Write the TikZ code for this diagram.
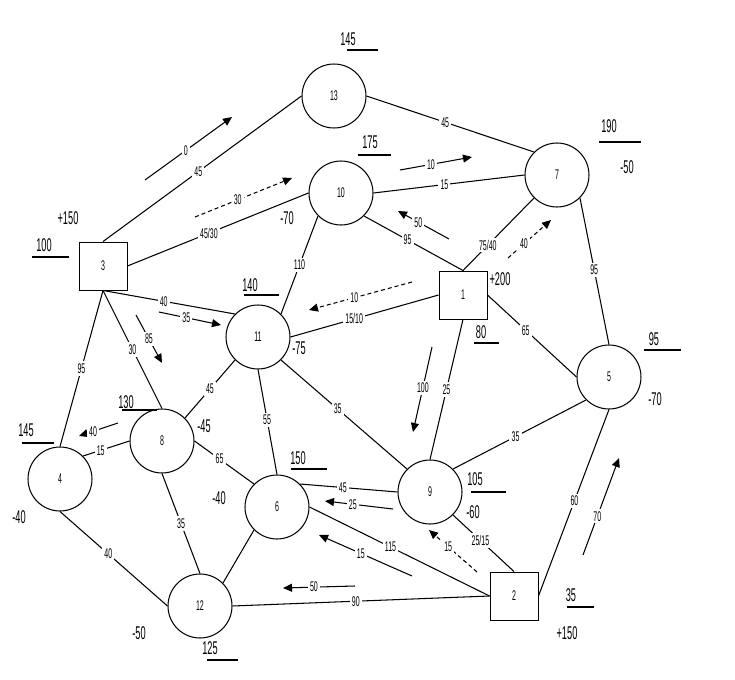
\documentclass[tikz,border=0pt]{standalone}
\usepackage{fontspec}
\setmainfont{Liberation Sans}[FakeStretch=0.5]
\usetikzlibrary{arrows.meta}

\begin{document}
\begin{tikzpicture}[x=0.02cm, y=-0.02cm,
  nd/.style={circle, draw, line width=0.6pt, minimum size=1.28cm, inner sep=0pt, font=\fontsize{8}{9}\selectfont},
  sq/.style={rectangle, draw, line width=0.55pt, minimum size=0.96cm, inner sep=0pt, font=\fontsize{8}{9}\selectfont},
  lnk/.style={line width=0.6pt},
  lbl/.style={fill=white, inner sep=1.2pt, font=\fontsize{8}{9}\selectfont},
  flw/.style={line width=0.6pt, -{Triangle[length=1.8mm, width=1.6mm]}},
  dflw/.style={flw, dash pattern=on 2.3pt off 1.7pt},
  num/.style={inner sep=0pt, font=\fontsize{10.5}{12}\selectfont},
  ul/.style={line width=0.8pt}]
\useasboundingbox (0,0) rectangle (735,680);

\node[nd] (n13) at (334,96) {13};
\node[nd] (n10) at (341,193) {10};
\node[nd] (n7) at (557,175) {7};
\node[sq] (n3) at (103,266) {3};
\node[sq] (n1) at (463,295) {1};
\node[nd] (n11) at (258,337) {11};
\node[nd] (n5) at (609,377) {5};
\node[nd] (n8) at (162,441) {8};
\node[nd] (n4) at (60,479) {4};
\node[nd] (n6) at (277,507) {6};
\node[nd] (n9) at (430,492) {9};
\node[nd] (n12) at (200,606) {12};
\node[sq] (n2) at (514,596) {2};

% links between nodes, cost label on each
\foreach \a/\b/\p/\l in {n3.north/n13.west/0.48/45, n13.east/n7.north west/0.47/45,
    n3.east/n10.west/0.45/{45/30}, n10.east/n7.west/0.47/15,
    n10.south east/n1.north/0.44/95, n1.north/n7.south west/0.35/{75/40},
    n10.south west/n11.north east/0.5/110, n3.south/n11.north west/0.46/40,
    n1.west/n11.east/0.57/{15/10}, n1.east/n5.west/0.43/65,
    n1.south/n9.north/0.5/25, n3.south/n4.north/0.5/95,
    n3.south/n8.north/0.5/30, n11.south west/n8.north east/0.5/45,
    n11.south/n6.north/0.48/55, n11.south east/n9.north west/0.45/35,
    n7.south east/n5.north/0.49/95, n5.south west/n9.north east/0.53/35,
    n5.south/n2.east/0.49/60, n8.west/n4.north east/0.62/15,
    n8.east/n6.north west/0.42/65, n8.south/n12.north/0.5/35,
    n4.south/n12.west/0.45/40, n6.north east/n9.west/0.44/45,
    n6.east/n2.west/0.45/115, n9.south east/n2.north/0.45/{25/15},
    n12.east/n2.west/0.48/90}{
  \draw[lnk] (\a) -- node[lbl, pos=\p] {\l} (\b);}
\draw[lnk] (n6.south west) -- (n12.north east);

% flow arrows beside the links
\foreach \n/\sx/\sy/\ex/\ey/\p/\l/\st in {fa/145/180/232/117/0.47/0/flw,
    fb/195/217/292/178/0.44/30/dflw, fc/400/170/472/157/0.43/10/flw,
    fd/449/239/398/211/0.6/50/flw, fe/508/258/551/220/0.37/40/dflw,
    ff/412/282/309/310/0.56/10/dflw, fg/159/312/221/325/0.44/35/flw,
    fh/136/315/162/363/0.5/85/flw, fi/118/423/79/436/0.64/40/flw,
    fj/432/347/413/432/0.48/100/flw, fk/393/509/325/501/0.59/25/flw,
    fl/412/576/319/535/0.55/15/flw, fm/477/572/429/530/0.6/15/dflw,
    fn/355/586/283/588/0.57/50/flw, fo/583/555/619/458/0.4/70/flw}{
  \coordinate (\n a) at (\sx,\sy);
  \coordinate (\n b) at (\ex,\ey);
  \draw[\st] (\n a) -- node[lbl, pos=\p] {\l} (\n b);}

% node values
\foreach \n/\x/\y/\t in {v13/348/39/145, v10/370/142/175, v7/609/126/190, w7/627/167/-50,
    w3/68/218/+150, v3/44/245/100, w10/287/218/-70, w1/500/279/+200, v1/481/332/80,
    v11/250/285/140, w11/299/348/-75, v5/654/339/95, w5/655/399/-70,
    v8/126/402/130, w8/204/426/-45, v4/26/430/145, w4/19/517/-40,
    v6/298/458/150, w6/219/498/-40, v9/475/479/105, w9/473/512/-60,
    v2/571/595/35, w2/567/633/+150, w12/139/633/-50, v12/210/648/125}{
  \node[num] (\n) at (\x,\y) {\t};}
\foreach \x/\y/\u in {347/50/378, 358/155/391, 599/142/641, 32/257/69, 474/343/499,
    244/295/279, 644/350/681, 122/410/157, 22/443/54, 291/469/327, 471/492/506,
    567/607/594, 207/660/238}{
  \draw[ul] (\x,\y) -- (\u,\y);}
\end{tikzpicture}
\end{document}
